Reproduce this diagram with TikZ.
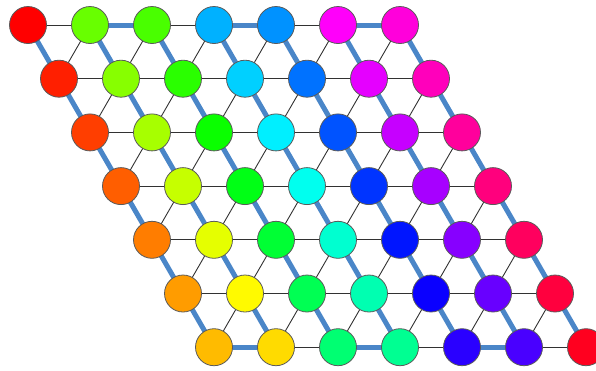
\documentclass[tikz,border=0pt]{standalone}
\pgfdeclarelayer{bg}
\pgfsetlayers{bg,main}
\definecolor{pathblue}{RGB}{74,134,200}
\definecolor{edgegray}{RGB}{50,50,50}
\definecolor{rimgray}{RGB}{90,90,90}
\begin{document}
\begin{tikzpicture}[x=1pt,y=-1pt,
  vtx/.style={circle, draw=rimgray, line width=0.8pt, minimum size=37pt, inner sep=0pt},
  plainedge/.style={draw=edgegray, line width=0.9pt},
  pathedge/.style={draw=pathblue, line width=5pt},
]
\useasboundingbox (0,0) rectangle (596,370);
\foreach \r in {0,...,6}{
  \foreach \c in {0,...,6}{
    \pgfmathtruncatemacro\k{mod(\c,2)==1 ? 7*\c+6-\r : 7*\c+\r}
    \pgfmathsetmacro\h{(360/49)*\k}
    \convertcolorspec{Hsb}{\h,1,1}{rgb}\vrgb
    \definecolor{vc}{rgb}{\vrgb}
    \node[vtx, fill=vc] (v-\r-\c) at ({28+62*\c+31*\r},{25+53.7*\r}) {};
  }
}
\begin{pgfonlayer}{bg}
  % horizontal edges
  \foreach \r in {0,...,6}{
    \foreach \c [evaluate=\c as \cn using int(\c+1)] in {0,...,5}{
      \draw[plainedge] (v-\r-\c.center) -- (v-\r-\cn.center);
    }
  }
  % down-left edges
  \foreach \r [evaluate=\r as \rn using int(\r+1)] in {0,...,5}{
    \foreach \c [evaluate=\c as \cn using int(\c+1)] in {0,...,5}{
      \draw[plainedge] (v-\r-\cn.center) -- (v-\rn-\c.center);
    }
  }
  % path: down-right edges
  \foreach \r [evaluate=\r as \rn using int(\r+1)] in {0,...,5}{
    \foreach \c in {0,...,6}{
      \draw[pathedge] (v-\r-\c.center) -- (v-\rn-\c.center);
    }
  }
  % path: turns
  \draw[pathedge] (v-0-1.center) -- (v-0-2.center);
  \draw[pathedge] (v-0-3.center) -- (v-0-4.center);
  \draw[pathedge] (v-0-5.center) -- (v-0-6.center);
  \draw[pathedge] (v-6-0.center) -- (v-6-1.center);
  \draw[pathedge] (v-6-2.center) -- (v-6-3.center);
  \draw[pathedge] (v-6-4.center) -- (v-6-5.center);
\end{pgfonlayer}
\end{tikzpicture}
\end{document}
